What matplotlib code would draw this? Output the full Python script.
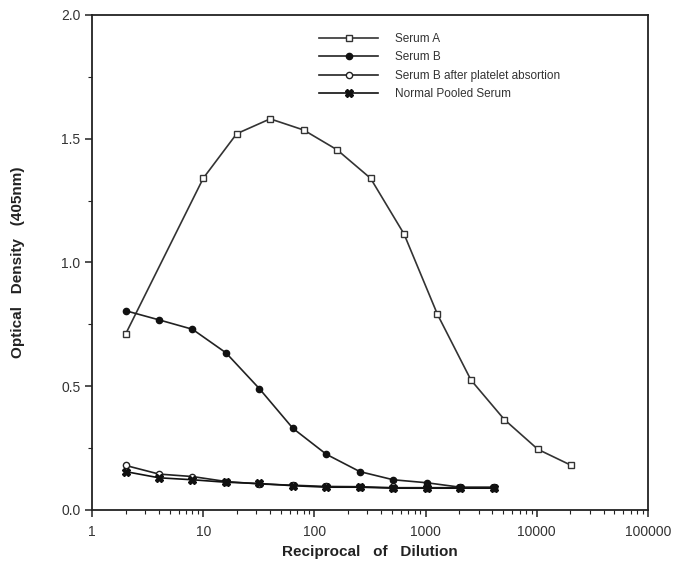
import numpy as np
import matplotlib
matplotlib.use('Agg')
import matplotlib.pyplot as plt
from matplotlib.ticker import MultipleLocator, LogLocator, NullFormatter, FixedLocator

plt.rc('font', family='Liberation Sans', size=9)

# dilutions
dil_a = [2, 10, 20, 40, 80, 160, 320, 640, 1280, 2560, 5120, 10240, 20480]
dil_b = [2, 4, 8, 16, 32, 64, 128, 256, 512, 1024, 2048, 4096]

# optical density values
serum_a = [0.71, 1.34, 1.52, 1.58, 1.535, 1.455, 1.34, 1.115, 0.79, 0.525, 0.365, 0.245, 0.18]
serum_b = [0.805, 0.768, 0.73, 0.635, 0.49, 0.33, 0.225, 0.155, 0.122, 0.11, 0.092, 0.092]
serum_b_abs = [0.18, 0.145, 0.135, 0.115, 0.105, 0.1, 0.095, 0.094, 0.09, 0.09, 0.09, 0.09]
normal_pool = [0.155, 0.13, 0.122, 0.112, 0.107, 0.098, 0.092, 0.092, 0.088, 0.088, 0.088, 0.088]

labels = ['Serum A', 'Serum B', 'Serum B after platelet absortion', 'Normal Pooled Serum']

fig = plt.figure(figsize=(6.77, 5.73), dpi=100)
ax = fig.add_axes([0.136, 0.110, 0.821, 0.864])

ax.plot(dil_a, serum_a, color='#333333', lw=1.2, marker='s', ms=4.5,
        mfc='white', mec='#333333', mew=1.0, label=labels[0])
ax.plot(dil_b, serum_b, color='#222222', lw=1.2, marker='o', ms=4.5,
        mfc='#111111', mec='#111111', label=labels[1])
ax.plot(dil_b, serum_b_abs, color='#222222', lw=1.2, marker='o', ms=4.5,
        mfc='white', mec='#222222', mew=1.0, label=labels[2])
ax.plot(dil_b, normal_pool, color='#111111', lw=1.2, marker='X', ms=5.5,
        mfc='#111111', mec='#111111', label=labels[3])

ax.set_xscale('log')
ax.set_xlim(1, 100000)
ax.set_ylim(0, 2.0)
ax.xaxis.set_major_locator(FixedLocator([1, 10, 100, 1000, 10000, 100000]))
ax.set_xticklabels(['1', '10', '100', '1000', '10000', '100000'])
ax.xaxis.set_minor_locator(LogLocator(base=10, subs=np.arange(2, 10)))
ax.xaxis.set_minor_formatter(NullFormatter())
ax.yaxis.set_major_locator(MultipleLocator(0.5))
ax.yaxis.set_minor_locator(MultipleLocator(0.25))
ax.set_yticks([0, 0.5, 1.0, 1.5, 2.0])
ax.set_yticklabels(['0.0', '0.5', '1.0', '1.5', '2.0'])

for s in ax.spines.values():
    s.set_linewidth(1.3)
    s.set_color('#222222')
ax.tick_params(which='major', direction='out', length=5, width=1.1, colors='#222222',
               labelcolor='#333333', labelsize=10)
ax.tick_params(which='minor', direction='out', length=3, width=0.8, colors='#222222')
ax.tick_params(axis='x', pad=6)

ax.set_xlabel('Reciprocal   of   Dilution', fontsize=11, fontweight='bold',
              color='#222222', labelpad=4)
ax.set_ylabel('Optical   Density   (405nm)', fontsize=11, fontweight='bold',
              color='#222222', labelpad=26)

leg = ax.legend(loc='upper left', bbox_to_anchor=(0.39, 0.985), frameon=False,
                numpoints=1, handlelength=5.0, handletextpad=1.4, labelspacing=0.55,
                fontsize=8.5)
for t in leg.get_texts():
    t.set_color('#333333')

fig.savefig('out.png', dpi=100)
